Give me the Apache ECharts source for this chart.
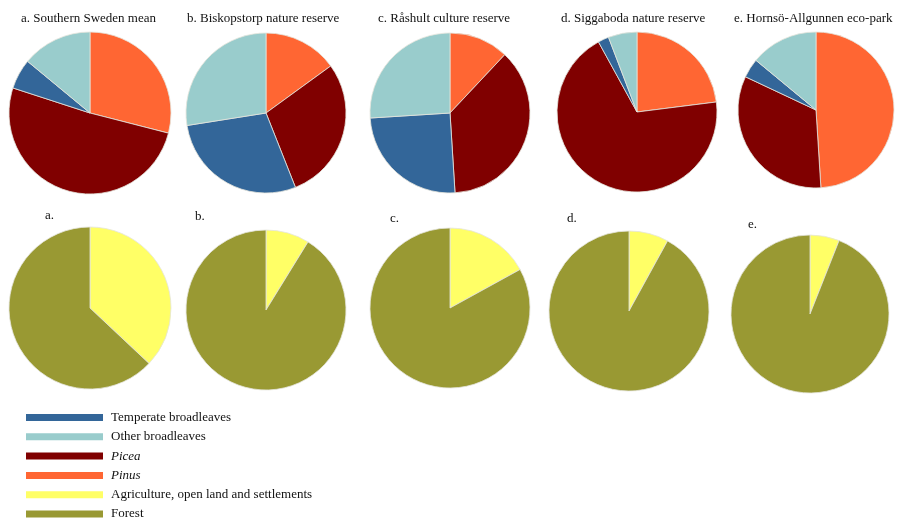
<!DOCTYPE html>
<html>
<head>
<meta charset="utf-8">
<script src="https://cdn.jsdelivr.net/npm/echarts@6/dist/echarts.min.js"></script>
<style>
  html, body { margin: 0; padding: 0; background: #fff; }
  #main { width: 902px; height: 518px; }
</style>
</head>
<body>
<div id="main"></div>
<script>
// 树种组成 (上排) 和 土地利用 (下排)
const siteTitles = ['a. Southern Sweden mean', 'b. Biskopstorp nature reserve', 'c. Råshult culture reserve',
    'd. Siggaboda nature reserve', 'e. Hornsö-Allgunnen eco-park']
const siteLetters = ['a.', 'b.', 'c.', 'd.', 'e.']

const treeNames = ['Pinus', 'Picea', 'Temperate broadleaves', 'Other broadleaves']
const pinus = [29, 15, 12, 23, 49]
const picea = [51, 29, 37, 69, 33]
const temperate = [6, 28.5, 25, 2.2, 4]
const otherBroad = [14, 27.5, 26, 5.8, 14]

const landNames = ['Agriculture, open land and settlements', 'Forest']
const agriculture = [37, 8.8, 17, 8, 6]
const forest = agriculture.map(v => 100 - v)

const legendNames = ['Temperate broadleaves', 'Other broadleaves', 'Picea', 'Pinus',
    'Agriculture, open land and settlements', 'Forest']

const colorType = {
    'Temperate broadleaves': '#336699',
    'Other broadleaves': '#99CCCC',
    'Picea': '#800000',
    'Pinus': '#FF6633',
    'Agriculture, open land and settlements': '#FFFF66',
    'Forest': '#999933'
}

// 布局
const topCenters = [[90, 113], [266, 113], [450, 113], [637, 112], [816, 110]]
const topRadius = [81, 80, 80, 80, 78]
const botCenters = [[90, 308], [266, 310], [450, 308], [629, 311], [810, 314]]
const botRadius = [81, 80, 80, 80, 79]
const titleLeft = [16, 182, 373, 556, 729]
const letterPos = [[40, 204], [190, 205], [385, 207], [562, 207], [743, 213]]

var myChart = echarts.init(document.getElementById('main'));

const pieBase = (center, r, data) => ({
    type: 'pie',
    center: center,
    radius: r,
    startAngle: 90,
    clockwise: true,
    animation: false,
    label: {show: false},
    labelLine: {show: false},
    emphasis: {disabled: true},
    itemStyle: {borderColor: '#e4e4dc', borderWidth: 0.8},
    data: data
})

const series = []
for (let i = 0; i < 5; i++) {
    const vals = [pinus[i], picea[i], temperate[i], otherBroad[i]]
    series.push(pieBase(topCenters[i], topRadius[i], treeNames.map((n, k) => ({
        name: n, value: vals[k], itemStyle: {color: colorType[n]}
    }))))
}
for (let i = 0; i < 5; i++) {
    const vals = [agriculture[i], forest[i]]
    series.push(pieBase(botCenters[i], botRadius[i], landNames.map((n, k) => ({
        name: n, value: vals[k], itemStyle: {color: colorType[n]}
    }))))
}

const titles = []
siteTitles.forEach((t, i) => titles.push({
    text: t, left: titleLeft[i], top: 7,
    textStyle: {fontFamily: 'Liberation Serif', fontSize: 13, fontWeight: 'normal', color: '#111'}
}))
siteLetters.forEach((t, i) => titles.push({
    text: t, left: letterPos[i][0], top: letterPos[i][1],
    textStyle: {fontFamily: 'Liberation Serif', fontSize: 13, fontWeight: 'normal', color: '#111'}
}))

myChart.setOption({
    backgroundColor: '#fff',
    title: titles,
    legend: {
        orient: 'vertical',
        left: 26,
        top: 411,
        height: 200,
        padding: 0,
        icon: 'rect',
        itemWidth: 77,
        itemHeight: 7,
        itemGap: 6.3,
        selectedMode: false,
        data: legendNames,
        itemStyle: {borderWidth: 0},
        formatter: name => (name === 'Picea' || name === 'Pinus') ? '{i|' + name + '}' : name,
        textStyle: {
            fontFamily: 'Liberation Serif', fontSize: 13, color: '#111', padding: [0, 0, 0, 3],
            rich: {i: {fontStyle: 'italic', fontFamily: 'Liberation Serif', fontSize: 13, color: '#111'}}
        }
    },
    series: series
});
</script>
</body>
</html>
